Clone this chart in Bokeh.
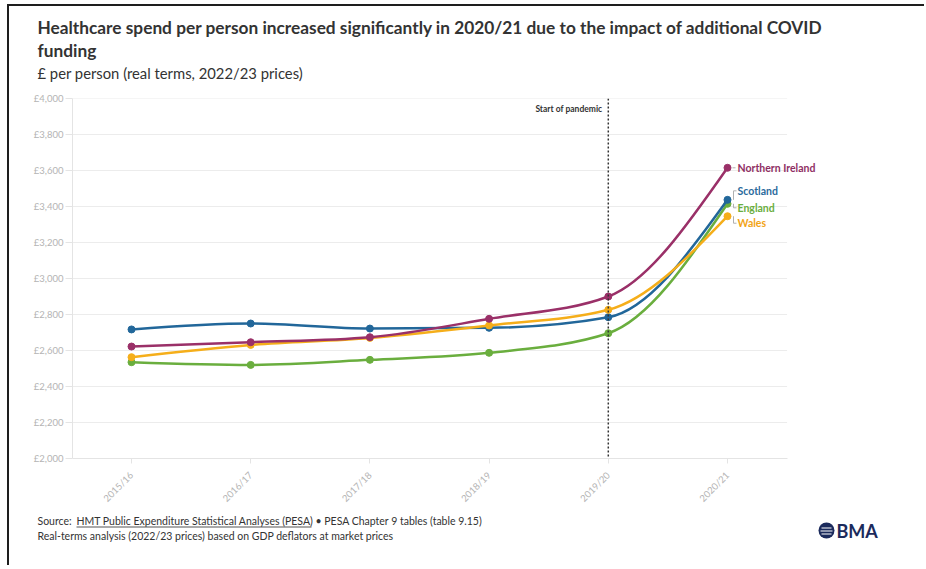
import math
import numpy as np
from bokeh.plotting import figure
from bokeh.layouts import column
from bokeh.models import (Range1d, FixedTicker, Label, ColumnDataSource, Span, BoxAnnotation)
from bokeh.embed import file_html
from bokeh.resources import INLINE

# ---------------- data ----------------
years = ["2015/16", "2016/17", "2017/18", "2018/19", "2019/20", "2020/21"]
northern_ireland = [2622, 2646, 2674, 2776, 2900, 3615]
scotland = [2717, 2750, 2722, 2726, 2785, 3437]
england = [2535, 2520, 2548, 2587, 2696, 3415]
wales = [2563, 2631, 2670, 2739, 2826, 3346]
series_names = ["England", "Scotland", "Wales", "Northern Ireland"]
y_ticks = [2000, 2200, 2400, 2600, 2800, 3000, 3200, 3400, 3600, 3800, 4000]
y_tick_labels = ["£2,000", "£2,200", "£2,400", "£2,600", "£2,800", "£3,000",
                 "£3,200", "£3,400", "£3,600", "£3,800", "£4,000"]
pandemic_year = "2019/20"

title_lines = ["Healthcare spend per person increased significantly in 2020/21 due to the impact of additional COVID",
               "funding"]
subtitle = "£ per person (real terms, 2022/23 prices)"
source_prefix = "Source:"
source_link = "HMT Public Expenditure Statistical Analyses (PESA)"
source_rest = "• PESA Chapter 9 tables (table 9.15)"
note = "Real-terms analysis (2022/23 prices) based on GDP deflators at market prices"
logo_text = "BMA"

# ---------------- style ----------------
colors = {"England": "#6aae3e", "Scotland": "#22679a", "Wales": "#f5ae1a",
          "Northern Ireland": "#9a3068"}
label_colors = {"England": "#6aae3e", "Scotland": "#2a6a9c", "Wales": "#f2a416",
                "Northern Ireland": "#8f2f63"}
label_dy = {"England": -4, "Scotland": 9, "Wales": -7, "Northern Ireland": 0}
FONT = "Lato"
TEXT = "#333333"
NAVY = "#1b2a5c"
values = {"England": england, "Scotland": scotland, "Wales": wales,
          "Northern Ireland": northern_ireland}
xs = list(range(len(years)))

OX, OY = 9, 6          # page position of the content (after border)
CW = 915               # content width
HEAD_H = 82
FRAME_L, FRAME_R, FRAME_T, FRAME_B = 72, 900, 98, 458   # page px
MAIN_BOTTOM_BORDER = 54
MAIN_H = (FRAME_T - (OY + HEAD_H)) + (FRAME_B - FRAME_T) + MAIN_BOTTOM_BORDER
FOOT_H = 565 - (OY + HEAD_H + MAIN_H)
CAT_PX = 119.2


def blank(h):
    f = figure(width=CW, height=h, output_backend="svg", toolbar_location=None,
               x_axis_location=None, y_axis_location=None,
               x_range=Range1d(0, 1), y_range=Range1d(0, 1), min_border=0)
    f.grid.visible = False
    f.outline_line_color = None
    f.border_fill_color = "white"
    f.frame_align = False
    return f


def put(fig, top_y, h, X, Y, s, size, bold=False, color=TEXT, align="left", font=FONT):
    fig.add_layout(Label(x=X - OX, y=(top_y + h) - Y, x_units="screen", y_units="screen",
                         text=s, text_align=align, text_baseline="middle", text_font=font,
                         text_font_size=size, text_font_style="bold" if bold else "normal",
                         text_color=color))


def box(fig, top_y, h, L, R, T, B, color, radius=0):
    bot = top_y + h
    fig.add_layout(BoxAnnotation(left=L - OX, right=R - OX, top=bot - T, bottom=bot - B,
                                 left_units="screen", right_units="screen", top_units="screen",
                                 bottom_units="screen", fill_color=color, fill_alpha=1,
                                 line_color=None, border_radius=radius))


# ---------------- header ----------------
head = blank(HEAD_H)
put(head, OY, HEAD_H, 37, 27, title_lines[0], "17.3px", bold=True)
put(head, OY, HEAD_H, 37, 50, title_lines[1], "17.3px", bold=True)
put(head, OY, HEAD_H, 37, 72, subtitle, "14.8px")

# ---------------- main chart ----------------
main_top = OY + HEAD_H
x0 = -(131 - FRAME_L) / CAT_PX
x1 = x0 + (FRAME_R - FRAME_L) / CAT_PX
p = figure(width=CW, height=MAIN_H, output_backend="svg", toolbar_location=None,
           x_range=Range1d(x0, x1), y_range=Range1d(2000, 4000),
           min_border_left=FRAME_L - OX, min_border_right=OX + CW - FRAME_R,
           min_border_top=FRAME_T - main_top, min_border_bottom=MAIN_BOTTOM_BORDER)
p.frame_align = False
p.outline_line_color = None
p.border_fill_color = "white"
p.grid.visible = False

p.yaxis.ticker = FixedTicker(ticks=y_ticks)
p.yaxis.major_label_overrides = {t: l for t, l in zip(y_ticks, y_tick_labels)}
p.xaxis.ticker = FixedTicker(ticks=xs)
p.xaxis.major_label_overrides = {i: y for i, y in enumerate(years)}
p.xaxis.major_label_orientation = math.pi / 4
p.xaxis.bounds = (-0.5, len(years) - 0.5)
for ax in (p.xaxis, p.yaxis):
    ax.axis_line_color = "#e4e4e4"
    ax.major_tick_line_color = "#e4e4e4"
    ax.minor_tick_line_color = None
    ax.major_tick_in = 0
    ax.major_label_text_color = "#b4b4b4"
    ax.major_label_text_font = FONT
    ax.major_label_text_font_size = "9.5px"
p.yaxis.major_tick_out = 7
p.yaxis.major_label_standoff = 2
p.xaxis.major_tick_out = 5
p.xaxis.major_label_standoff = 10

# horizontal grid lines limited to the category span
gy = y_ticks[1:]
p.segment(x0=[-0.5] * len(gy), y0=gy, x1=[len(years) - 0.5] * len(gy), y1=gy,
          line_color="#ececec", line_width=1, level="underlay")


def monotone(x, y):
    x = np.asarray(x, float)
    y = np.asarray(y, float)
    n = len(x)
    h = np.diff(x)
    s = np.diff(y) / h
    t = np.zeros(n)
    for i in range(1, n - 1):
        s0, s1, h0, h1 = s[i - 1], s[i], h[i - 1], h[i]
        pp = (s0 * h1 + s1 * h0) / (h0 + h1)
        t[i] = (np.sign(s0) + np.sign(s1)) * min(abs(s0), abs(s1), 0.5 * abs(pp))
    t[0] = (3 * s[0] - t[1]) / 2
    t[-1] = (3 * s[-1] - t[-2]) / 2
    dx = h / 3
    return dict(x0=x[:-1], y0=y[:-1], x1=x[1:], y1=y[1:],
                cx0=x[:-1] + dx, cy0=y[:-1] + dx * t[:-1],
                cx1=x[1:] - dx, cy1=y[1:] - dx * t[1:])


for name in series_names:
    src = ColumnDataSource(monotone(xs, values[name]))
    p.bezier(x0="x0", y0="y0", x1="x1", y1="y1", cx0="cx0", cy0="cy0",
             cx1="cx1", cy1="cy1", source=src, line_color=colors[name],
             line_width=2.5, line_cap="round")
    p.scatter(xs, values[name], size=7, color=colors[name])

px_idx = years.index(pandemic_year)
p.add_layout(Span(location=px_idx, dimension="height", line_color="#333333",
                  line_width=1.5, line_dash="2 2"))
p.add_layout(Label(x=px_idx, y=4000, x_offset=-6, y_offset=-10, text="Start of pandemic",
                   text_align="right", text_baseline="middle", text_font=FONT,
                   text_font_style="bold", text_font_size="8.5px", text_color="#333333"))

last = len(years) - 1
ppx_y = (FRAME_B - FRAME_T) / 2000.0
for name in series_names:
    v = values[name][-1]
    dy = label_dy[name]
    p.add_layout(Label(x=last, y=v, x_offset=10, y_offset=dy, text=name,
                       text_align="left", text_baseline="middle", text_font=FONT,
                       text_font_style="bold", text_font_size="10.5px",
                       text_color=label_colors[name]))
    xc = last + 6 / CAT_PX
    yl = v + dy / ppx_y
    if abs(dy) > 2:
        p.segment(x0=[xc], y0=[v], x1=[xc], y1=[yl], line_color="#b0b0b0", line_width=1)
        p.segment(x0=[xc], y0=[yl], x1=[xc + 3 / CAT_PX], y1=[yl], line_color="#b0b0b0", line_width=1)
    else:
        p.segment(x0=[last + 5 / CAT_PX], y0=[v], x1=[last + 8 / CAT_PX], y1=[v],
                  line_color="#b0b0b0", line_width=1)

# ---------------- footer ----------------
foot_top = main_top + MAIN_H
foot = blank(FOOT_H)
put(foot, foot_top, FOOT_H, 37, 520, source_prefix, "10.5px")
put(foot, foot_top, FOOT_H, 76, 520, source_link, "10.5px")
put(foot, foot_top, FOOT_H, 315, 520, source_rest, "10.5px")
put(foot, foot_top, FOOT_H, 37, 535, note, "10.5px")
box(foot, foot_top, FOOT_H, 76, 311, 526, 527, "#555555")
# BMA logo
box(foot, foot_top, FOOT_H, 818, 834, 522, 538, NAVY, radius=8)
box(foot, foot_top, FOOT_H, 821, 831, 527, 528, "white")
box(foot, foot_top, FOOT_H, 820, 832, 530, 531, "white")
box(foot, foot_top, FOOT_H, 821, 831, 533, 534, "white")
put(foot, foot_top, FOOT_H, 836, 530, logo_text, "18px", bold=True, color=NAVY)

layout = column(head, p, foot, spacing=0,
                styles={"margin-left": "7px", "margin-top": "4px",
                        "border-left": "2px solid #1e1e1e", "border-top": "2px solid #1e1e1e"})

open("out.html", "w").write(file_html(layout, INLINE))
